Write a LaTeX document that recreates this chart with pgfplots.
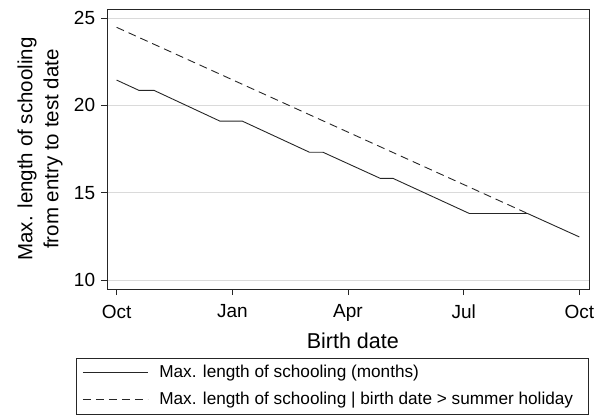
\documentclass[border=0pt]{standalone}
\usepackage{fontspec}
\setmainfont{Liberation Sans}
\usepackage{pgfplots}
\pgfplotsset{compat=1.18}

\definecolor{lineblack}{HTML}{262626}
\definecolor{gridgray}{HTML}{DADADA}

\begin{document}
\fontsize{17}{20}\selectfont
\begin{tikzpicture}[x=1pt,y=1pt]
  \useasboundingbox (0,0) rectangle (607,415);
  \begin{axis}[
      at={(107pt,126pt)},
      anchor=south west,
      scale only axis,
      width=482pt,
      height=280pt,
      xmin=-0.25, xmax=12.25,
      ymin=9.49, ymax=25.52,
      xtick={0,3,6,9,12},
      xticklabels={Oct,Jan,Apr,Jul,Oct},
      ytick={10,15,20,25},
      tick align=outside,
      major tick length=6pt,
      xtick pos=bottom,
      ytick pos=left,
      ymajorgrids,
      grid style={gridgray, line width=0.8pt},
      axis line style={lineblack, line width=0.9pt},
      tick style={lineblack, line width=0.8pt},
      /pgf/number format/assume math mode=true,
      ticklabel style={font=\fontsize{19}{22}\selectfont},
      xticklabel style={yshift=-4pt},
      xlabel={Birth date},
      ylabel={Max. length of schooling\\from entry to test date},
      xlabel style={font=\fontsize{21.5}{25}\selectfont, at={(axis description cs:0.51,-0.184)}, anchor=center},
      ylabel style={font=\fontsize{20.5}{26}\selectfont, align=center, at={(axis description cs:-0.139,0.5)}, anchor=center},
      legend style={
        at={(axis description cs:-0.0643,-0.246)},
        anchor=north west,
        draw=lineblack, line width=0.8pt,
        font=\fontsize{17.2}{20}\selectfont,
        row sep=8pt,
        column sep=9pt,
        inner xsep=6pt, inner ysep=5pt
      },
      legend cell align=left,
      legend image code/.code={\draw[#1] (0pt,0pt) -- (65pt,0pt);},
    ]
    \addplot[lineblack, line width=0.9pt] coordinates {
      (0,21.45) (0.58,20.86) (0.97,20.86) (2.68,19.1) (3.26,19.1)
      (5.0,17.32) (5.35,17.32) (6.84,15.82) (7.17,15.82)
      (9.15,13.81) (10.66,13.81) (12,12.47)
    };
    \addlegendentry{\makebox[421pt][l]{Max. length of schooling (months)}}
    \addplot[lineblack, line width=0.9pt, dash pattern=on 8pt off 5pt] coordinates {
      (0,24.47) (10.66,13.81)
    };
    \addlegendentry{\makebox[421pt][l]{Max. length of schooling | birth date > summer holiday}}
  \end{axis}
\end{tikzpicture}
\end{document}
